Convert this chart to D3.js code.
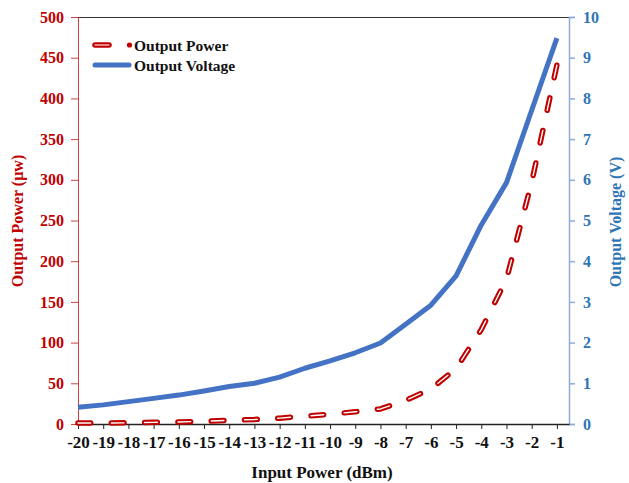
<!DOCTYPE html>
<html><head><meta charset="utf-8">
<script src="https://cdn.jsdelivr.net/npm/d3@7"></script>
<style>body{margin:0;background:#fff}svg{display:block}text{font-family:"Liberation Serif","Times New Roman",serif;font-weight:bold}</style>
</head><body>
<script>
const inputPower = [-20,-19,-18,-17,-16,-15,-14,-13,-12,-11,-10,-9,-8,-7,-6,-5,-4,-3,-2,-1];
const outputPower = [1.2,1.1,1.5,2,2.5,3.3,4.6,5.5,7.2,9.6,12,15,18.5,29,43,68,116,178,297,441];
const outputVoltage = [0.41,0.47,0.55,0.63,0.71,0.81,0.92,1.0,1.15,1.37,1.55,1.75,1.99,2.45,2.92,3.64,4.89,5.93,7.71,9.48];
const powerTicks = [0,50,100,150,200,250,300,350,400,450,500];
const voltageTicks = [0,1,2,3,4,5,6,7,8,9,10];
const seriesNames = ["Output Power","Output Voltage"];

const W=629,H=483, L=78,R=569,T=17,B=424;
const red="#c00000", blue="#4472c4", blueText="#2e75b6", blueAxis="#8faadc";
const svg=d3.select("body").append("svg").attr("width",W).attr("height",H);
const x=d3.scaleLinear().domain([-20,-0.52]).range([L,R]);
const yP=d3.scaleLinear().domain([0,500]).range([B,T]);
const yV=d3.scaleLinear().domain([0,10]).range([B,T]);
const fmt=d=>String(d);

// top border
svg.append("line").attr("x1",L).attr("x2",R).attr("y1",T+0.5).attr("y2",T+0.5).attr("stroke","#333").attr("stroke-width",1);

// left axis
const gl=svg.append("g").attr("transform",`translate(${L},0)`).call(d3.axisLeft(yP).tickValues(powerTicks).tickSize(7).tickPadding(7).tickFormat(fmt));
gl.select(".domain").attr("stroke","#d04040");
gl.selectAll(".tick line").attr("stroke","#d04040");
gl.selectAll("text").attr("fill",red).style("font-size","16px").style("font-family","Liberation Serif").style("font-weight","bold");

// right axis
const gr=svg.append("g").attr("transform",`translate(${R},0)`).call(d3.axisRight(yV).tickValues(voltageTicks).tickSize(6).tickPadding(8).tickFormat(fmt));
gr.select(".domain").attr("stroke",blueAxis).attr("stroke-width",1.5);
gr.selectAll(".tick line").attr("stroke",blueAxis).attr("stroke-width",1.5);
gr.selectAll("text").attr("fill",blueText).style("font-size","16px").style("font-family","Liberation Serif").style("font-weight","bold");

// bottom axis
const gb=svg.append("g").attr("transform",`translate(0,${B})`).call(d3.axisBottom(x).tickValues(inputPower).tickSize(5).tickPadding(7).tickFormat(fmt).tickSizeOuter(0));
gb.select(".domain").attr("stroke","#222").attr("stroke-width",1.5);
gb.selectAll(".tick line").attr("stroke","#222");
gb.selectAll("text").attr("fill","#111").style("font-size","17px").style("font-family","Liberation Serif").style("font-weight","bold");

// lines
const lineV=d3.line().x((d,i)=>x(inputPower[i])).y(d=>yV(d));
const lineP=d3.line().x((d,i)=>x(inputPower[i])).y(d=>yP(d));
svg.append("path").datum(outputVoltage).attr("d",lineV).attr("fill","none").attr("stroke",blue).attr("stroke-width",5).attr("stroke-linejoin","round");
const pOuter=svg.append("path").datum(outputPower).attr("d",lineP).attr("fill","none").attr("stroke",red).attr("stroke-width",5.5).attr("stroke-linecap","round").attr("stroke-linejoin","round");
const pInner=svg.append("path").datum(outputPower).attr("d",lineP).attr("fill","none").attr("stroke","#fff").attr("stroke-width",1.4).attr("stroke-linecap","round").attr("stroke-linejoin","round");
const tot=pOuter.node().getTotalLength();
const n=Math.max(1,Math.round((tot-13)/34));
const per=(tot-13)/n, dash=13*per/34;
const da=`${dash},${per-dash}`;
pOuter.attr("stroke-dasharray",da); pInner.attr("stroke-dasharray",da);

// legend
const lg=svg.append("g");
lg.append("line").attr("x1",95).attr("x2",109).attr("y1",45).attr("y2",45).attr("stroke",red).attr("stroke-width",5.5).attr("stroke-linecap","round");
lg.append("line").attr("x1",95).attr("x2",109).attr("y1",45).attr("y2",45).attr("stroke","#f4b0b0").attr("stroke-width",1.4).attr("stroke-linecap","round");
lg.append("circle").attr("cx",129.5).attr("cy",45).attr("r",2.6).attr("fill",red);
lg.append("text").attr("x",134).attr("y",50.5).text(seriesNames[0]).style("font-size","15.5px").attr("fill","#111");
lg.append("line").attr("x1",95).attr("x2",129).attr("y1",65).attr("y2",65).attr("stroke",blue).attr("stroke-width",5).attr("stroke-linecap","round");
lg.append("text").attr("x",134).attr("y",70.5).text(seriesNames[1]).style("font-size","15.5px").attr("fill","#111");

// titles
svg.append("text").attr("x",322).attr("y",478).attr("text-anchor","middle").style("font-size","17px").attr("fill","#111").text("Input Power (dBm)");
svg.append("text").attr("transform","translate(23,221) rotate(-90)").attr("text-anchor","middle").style("font-size","16px").attr("fill",red).text("Output Power (µw)");
svg.append("text").attr("transform","translate(621,222) rotate(-90)").attr("text-anchor","middle").style("font-size","16px").attr("fill",blueText).text("Output Voltage (V)");
</script>
</body></html>
